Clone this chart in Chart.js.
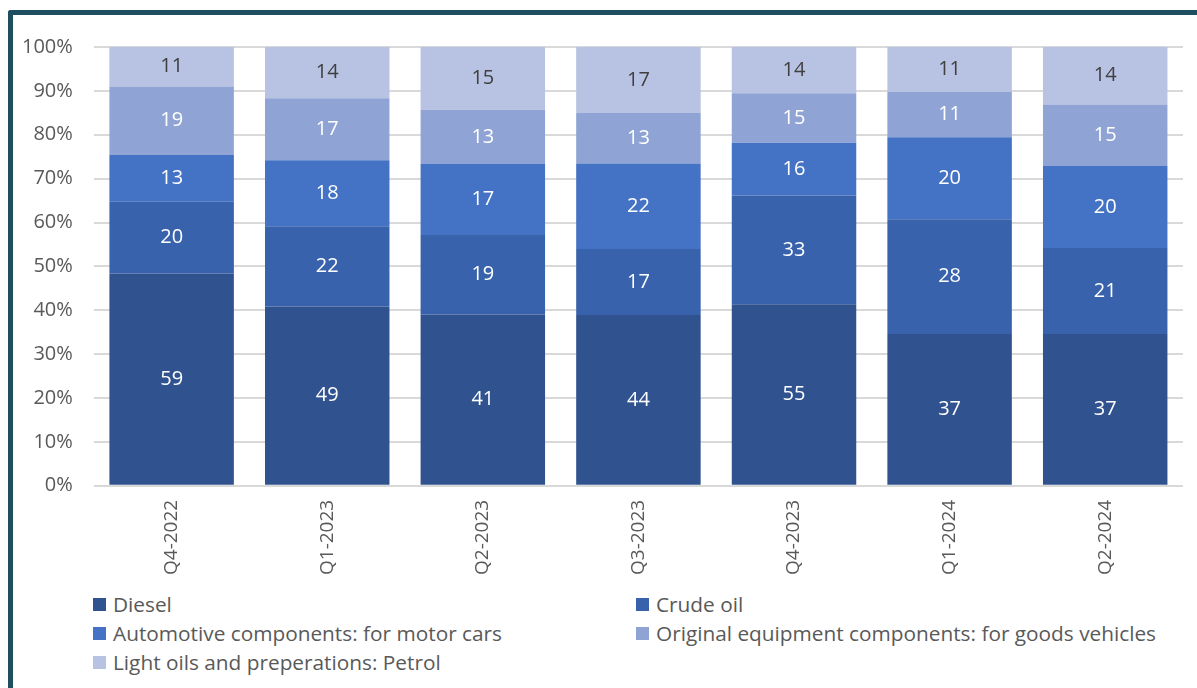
<!DOCTYPE html>
<html>
<head>
<meta charset="utf-8">
<script src="https://cdn.jsdelivr.net/npm/chart.js@4/dist/chart.umd.min.js"></script>
<style>
  html, body { margin: 0; padding: 0; background: #ffffff; }
  body { width: 1197px; height: 688px; position: relative; overflow: hidden; font-family: "Open Sans", sans-serif; }
  #frame { position: absolute; left: 8px; top: 10px; width: 1200px; height: 700px;
           border-left: 5px solid #1f4e61; border-top: 5px solid #1f4e61; border-top-left-radius: 3px; box-sizing: border-box; }
  #wrap { position: absolute; left: 0; top: 0; width: 1197px; height: 590px; }
  #legend { position: absolute; left: 93px; top: 590px; width: 1100px; }
  .item { position: absolute; display: flex; align-items: center; font-size: 20.8px; line-height: 28px; color: #595959; white-space: nowrap; }
  .sw { width: 13px; height: 13px; margin-right: 7px; }
</style>
</head>
<body>
<div id="frame"></div>
<div id="wrap"><canvas id="c" width="1197" height="590"></canvas></div>
<div id="legend"></div>
<script>
// Quarterly shares of the top product groups (values shown inside each segment)
const categories = ['Q4-2022', 'Q1-2023', 'Q2-2023', 'Q3-2023', 'Q4-2023', 'Q1-2024', 'Q2-2024'];
const diesel    = [59, 49, 41, 44, 55, 37, 37];
const crudeOil  = [20, 22, 19, 17, 33, 28, 21];
const motorCars = [13, 18, 17, 22, 16, 20, 20];
const goodsVeh  = [19, 17, 13, 13, 15, 11, 15];
const petrol    = [11, 14, 15, 17, 14, 11, 14];
const yTicks    = [0, 10, 20, 30, 40, 50, 60, 70, 80, 90, 100];

const seriesNames  = ['Diesel', 'Crude oil', 'Automotive components: for motor cars',
                      'Original equipment components: for goods vehicles', 'Light oils and preperations: Petrol'];
const seriesValues = [diesel, crudeOil, motorCars, goodsVeh, petrol];
const seriesColors = ['#30538f', '#3862ab', '#4472c4', '#8fa4d5', '#b8c2e2'];
const labelColors  = ['#ffffff', '#ffffff', '#ffffff', '#ffffff', '#404040'];

const totals = categories.map((_, i) => seriesValues.reduce((s, arr) => s + arr[i], 0));

const datasets = seriesValues.map((vals, k) => ({
  label: seriesNames[k],
  data: vals.map((v, i) => v / totals[i] * 100),
  raw: vals,
  backgroundColor: seriesColors[k],
  borderWidth: 0,
  barPercentage: 0.8,
  categoryPercentage: 1.0,
  labelColor: labelColors[k]
}));

// Writes each segment's value at its centre
const segmentLabels = {
  id: 'segmentLabels',
  afterDatasetsDraw(chart) {
    const ctx = chart.ctx;
    ctx.save();
    ctx.font = '20px "Open Sans", sans-serif';
    ctx.textAlign = 'center';
    ctx.textBaseline = 'middle';
    chart.data.datasets.forEach((ds, di) => {
      const meta = chart.getDatasetMeta(di);
      meta.data.forEach((bar, i) => {
        const yMid = (bar.y + bar.base) / 2;
        ctx.fillStyle = ds.labelColor;
        ctx.fillText(String(ds.raw[i]), bar.x, yMid);
      });
    });
    ctx.restore();
  }
};

const chart = new Chart(document.getElementById('c'), {
  type: 'bar',
  data: { labels: categories, datasets },
  plugins: [segmentLabels],
  options: {
    responsive: false,
    animation: false,
    layout: { padding: { left: 1, right: 14, top: 47, bottom: 1 } },
    plugins: { legend: { display: false }, tooltip: { enabled: false }, title: { display: false } },
    scales: {
      x: {
        stacked: true,
        grid: { display: false, drawTicks: false },
        border: { display: false },
        ticks: { color: '#595959', font: { family: 'Open Sans', size: 19 }, minRotation: 90, maxRotation: 90, padding: 14 }
      },
      y: {
        stacked: true,
        min: 0, max: 100,
        afterBuildTicks(axis) { axis.ticks = yTicks.map(v => ({ value: v })); },
        grid: { color: '#d9d9d9', lineWidth: 2, drawTicks: false },
        border: { display: false },
        ticks: { color: '#595959', font: { family: 'Open Sans', size: 20 }, padding: 21, callback: v => v + '%' }
      }
    }
  }
});

// Two-column legend beneath the plot
const legend = document.getElementById('legend');
const slots = [[0, 0], [1, 0], [0, 1], [1, 1], [0, 2]];
seriesNames.forEach((name, k) => {
  const el = document.createElement('div');
  el.className = 'item';
  el.style.left = (slots[k][0] * 543) + 'px';
  el.style.top = (slots[k][1] * 29) + 'px';
  el.innerHTML = '<span class="sw" style="background:' + seriesColors[k] + '"></span>' + name;
  legend.appendChild(el);
});
</script>
</body>
</html>
